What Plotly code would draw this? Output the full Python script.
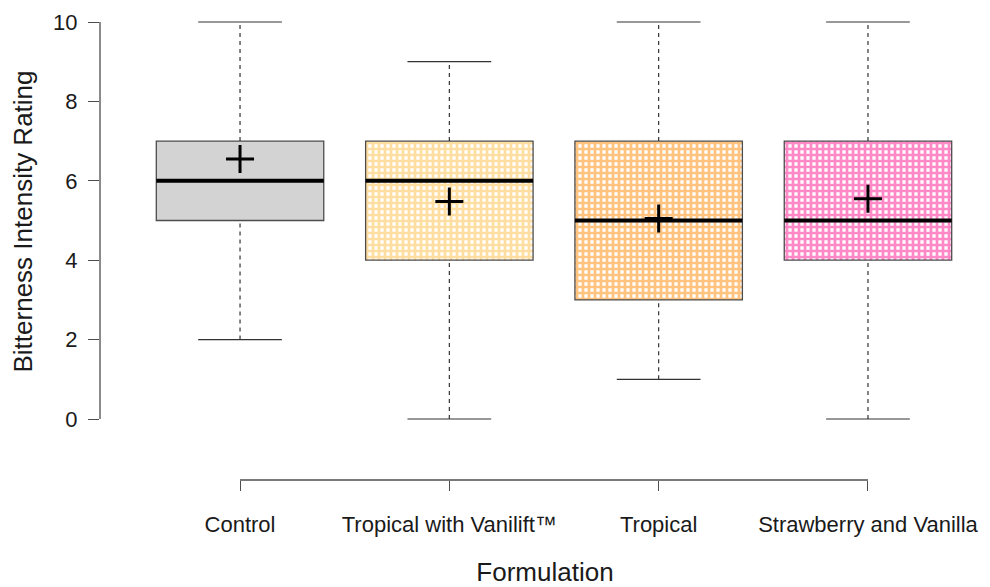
import plotly.graph_objects as go

categories = ["Control", "Tropical with Vanilift™", "Tropical", "Strawberry and Vanilla"]
positions = [1, 2, 3, 4]
mins = [2, 0, 1, 0]
q1s = [5, 4, 3, 4]
medians = [6, 6, 5, 5]
q3s = [7, 7, 7, 7]
maxs = [10, 9, 10, 10]
means = [6.55, 5.48, 5.05, 5.55]

fill_colors = ["#d3d3d3", "#ffbd45", "#ff8800", "#ff1490"]
patterned = [False, True, True, True]

BOX_W = 0.8
CAP_W = 0.4
EDGE = "#4d4d4d"
FONT = "Liberation Sans, Arial, sans-serif"

fig = go.Figure()

# boxes (IQR) as bars
for i, c in enumerate(categories):
    marker = dict(color=fill_colors[i] if not patterned[i] else "white",
                  line=dict(color=EDGE, width=1.3))
    if patterned[i]:
        marker["pattern"] = dict(shape="+", fgcolor=fill_colors[i], bgcolor="white",
                                 size=6, solidity=0.7, fillmode="overlay")
    fig.add_trace(go.Bar(x=[positions[i]], y=[q3s[i] - q1s[i]], base=[q1s[i]],
                         width=BOX_W, marker=marker, showlegend=False, name=c))

# dashed whiskers
wx, wy = [], []
for p, lo, a, b, hi in zip(positions, mins, q1s, q3s, maxs):
    wx += [p, p, None, p, p, None]
    wy += [lo, a, None, b, hi, None]
fig.add_trace(go.Scatter(x=wx, y=wy, mode="lines",
                         line=dict(color="#333333", width=1.2, dash="4px,4px"),
                         showlegend=False, hoverinfo="skip"))

# whisker caps
cx, cy = [], []
for p, lo, hi in zip(positions, mins, maxs):
    cx += [p - CAP_W / 2, p + CAP_W / 2, None, p - CAP_W / 2, p + CAP_W / 2, None]
    cy += [lo, lo, None, hi, hi, None]
fig.add_trace(go.Scatter(x=cx, y=cy, mode="lines",
                         line=dict(color="#333333", width=1.2),
                         showlegend=False, hoverinfo="skip"))

# medians
mx, my = [], []
for p, m in zip(positions, medians):
    mx += [p - BOX_W / 2, p + BOX_W / 2, None]
    my += [m, m, None]
fig.add_trace(go.Scatter(x=mx, y=my, mode="lines",
                         line=dict(color="black", width=4),
                         showlegend=False, hoverinfo="skip"))

# means
fig.add_trace(go.Scatter(x=positions, y=means, mode="markers",
                         marker=dict(symbol="cross-thin", size=20,
                                     line=dict(color="black", width=3)),
                         showlegend=False))

# y axis line (R style, from first to last tick)
fig.add_shape(type="line", xref="paper", yref="y", x0=0, x1=0, y0=0, y1=10,
              line=dict(color=EDGE, width=1.3))
# x axis line (from first to last tick)
fig.add_shape(type="line", xref="x", yref="paper", x0=1, x1=4, y0=0, y1=0,
              line=dict(color=EDGE, width=1.3))

fig.update_layout(
    width=982, height=579,
    margin=dict(l=92, r=0, t=0, b=107, autoexpand=False),
    plot_bgcolor="white", paper_bgcolor="white",
    font=dict(family=FONT, size=22, color="#1a1a1a"),
    barmode="overlay",
    xaxis=dict(range=[0.331, 4.583], tickvals=positions, ticktext=categories,
               ticks="outside", ticklen=10, tickwidth=1.3, tickcolor=EDGE,
               showline=False, showgrid=False, zeroline=False,
               anchor="free", position=0, automargin=False,
               ticklabelstandoff=15,
               title=dict(text="Formulation", standoff=27)),
    yaxis=dict(range=[-0.403, 10.3526], domain=[45 / 472, 1],
               tickvals=[0, 2, 4, 6, 8, 10], automargin=False,
               ticks="outside", ticklen=11, tickwidth=1.3, tickcolor=EDGE,
               showline=False, showgrid=False, zeroline=False,
               ticklabelstandoff=6,
               title=dict(text="Bitterness Intensity Rating", standoff=14)),
)

fig.write_html("out.html")
